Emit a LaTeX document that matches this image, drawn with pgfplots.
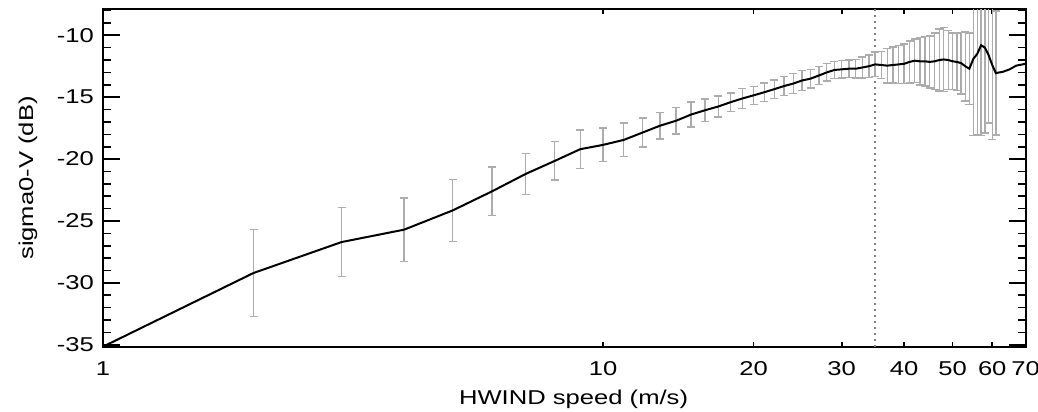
\documentclass[border=0pt]{standalone}
\usepackage{fontspec}
\setmainfont[FakeStretch=1.28]{Liberation Sans}
\usepackage{pgfplots}
\pgfplotsset{compat=1.18}
\usepackage{pgfplotstable}

\pgfplotstableread{
x y
1 -35.15
2 -29.2
3 -26.7
4 -25.7
5 -24.15
6 -22.6
7 -21.2
8 -20.15
9 -19.2
10 -18.85
11 -18.45
12 -17.85
13 -17.3
14 -16.9
15 -16.4
16 -16.05
17 -15.75
18 -15.4
19 -15.1
20 -14.85
21 -14.6
22 -14.35
23 -14.1
24 -13.9
25 -13.65
26 -13.5
27 -13.25
28 -13.0
29 -12.8
30 -12.75
31 -12.7
32 -12.7
33 -12.6
34 -12.5
35 -12.35
36 -12.4
37 -12.45
38 -12.4
39 -12.35
40 -12.3
41 -12.15
42 -12.05
43 -12.1
44 -12.1
45 -12.15
46 -12.1
47 -12.0
48 -11.95
49 -12.0
50 -12.1
51 -12.15
52 -12.25
53 -12.5
54 -12.7
55 -11.9
56 -11.5
57 -10.8
58 -11.0
59 -11.6
60 -12.4
61 -13.05
62 -13.0
63 -12.95
64 -12.85
65 -12.75
66 -12.6
67 -12.45
68 -12.4
69 -12.35
70 -12.3
}\linedata

\pgfplotstableread{
x y e
2 -29.2 3.5
3 -26.7 2.8
4 -25.7 2.55
5 -24.15 2.5
6 -22.6 1.96
7 -21.2 1.65
8 -20.15 1.55
9 -19.2 1.54
10 -18.85 1.35
11 -18.45 1.35
12 -17.85 1.16
13 -17.3 1.08
14 -16.9 1.08
15 -16.4 1.0
16 -16.05 0.92
17 -15.75 0.86
18 -15.4 0.75
19 -15.1 0.82
20 -14.85 0.72
21 -14.6 0.74
22 -14.35 0.74
23 -14.1 0.78
24 -13.9 0.8
25 -13.65 0.8
26 -13.5 0.75
27 -13.25 0.72
28 -13.0 0.7
29 -12.8 0.7
30 -12.75 0.7
31 -12.7 0.72
32 -12.7 0.75
33 -12.6 0.85
34 -12.5 0.9
35 -12.35 1.0
36 -12.4 1.1
37 -12.45 1.4
38 -12.4 1.45
39 -12.35 1.55
40 -12.3 1.6
41 -12.15 1.7
42 -12.05 1.75
43 -12.1 1.9
44 -12.1 2.0
45 -12.15 2.1
46 -12.1 2.3
47 -12.0 2.5
48 -11.95 2.6
49 -12.0 2.4
50 -12.1 2.3
51 -12.15 2.3
52 -12.25 2.5
53 -12.5 2.8
54 -12.7 2.9
55 -11.9 6.2
56 -11.5 6.5
57 -10.8 7.3
58 -11.0 6.9
59 -11.6 5.5
60 -12.4 6.0
61 -13.05 5.0
}\bardata

\begin{document}
\begin{tikzpicture}
\begin{axis}[
  scale only axis,
  width=461.4pt, height=168.7pt,
  xmode=log,
  xmin=1, xmax=70,
  ymin=-35.15, ymax=-7.9,
  xtick={1,10,20,30,40,50,60,70},
  xticklabels={1,10,20,30,40,50,60,70},
  minor xtick={},
  ytick={-35,-30,-25,-20,-15,-10},
  minor ytick={-34,-33,-32,-31,-29,-28,-27,-26,-24,-23,-22,-21,-19,-18,-17,-16,-14,-13,-12,-11,-9,-8},
  tick align=inside,
  xtick style={/pgfplots/major tick length=2.5pt, line width=0.8pt, black},
  ytick style={/pgfplots/major tick length=8.5pt, /pgfplots/minor tick length=4pt, line width=0.8pt, black},
  axis line style={line width=0.9pt},
  tick label style={font=\fontsize{10}{12}\selectfont},
  /pgf/number format/assume math mode=true,
  yticklabel style={xshift=-1pt},
  xticklabel style={yshift=-4pt},
  xlabel={HWIND speed (m/s)},
  ylabel={sigma0-V (dB)},
  label style={font=\fontsize{10}{12}\selectfont},
  xlabel style={at={(axis description cs:0.51,-0.157)}, anchor=center},
  ylabel style={at={(axis description cs:-0.0813,0.5)}, anchor=center},
  clip=true,
]
\addplot[gray, line width=0.8pt, dash pattern=on 1pt off 2pt] coordinates {(35,-40) (35,0)};
\addplot[draw=none, mark=none,
  error bars/.cd, y dir=both, y explicit,
  error bar style={draw=gray!65, line width=0.7pt},
  error mark options={draw=gray!65, line width=0.7pt, mark size=2pt, rotate=90}]
  table[x=x, y=y, y error=e] {\bardata};
\addplot[black, line width=1pt, mark=none] table[x=x, y=y] {\linedata};
\end{axis}
\pgfresetboundingbox
\path ([shift={(-51.5pt,-32.65pt)}]current axis.south west) rectangle ([shift={(6.15pt,4.65pt)}]current axis.north east);
\end{tikzpicture}
\end{document}
